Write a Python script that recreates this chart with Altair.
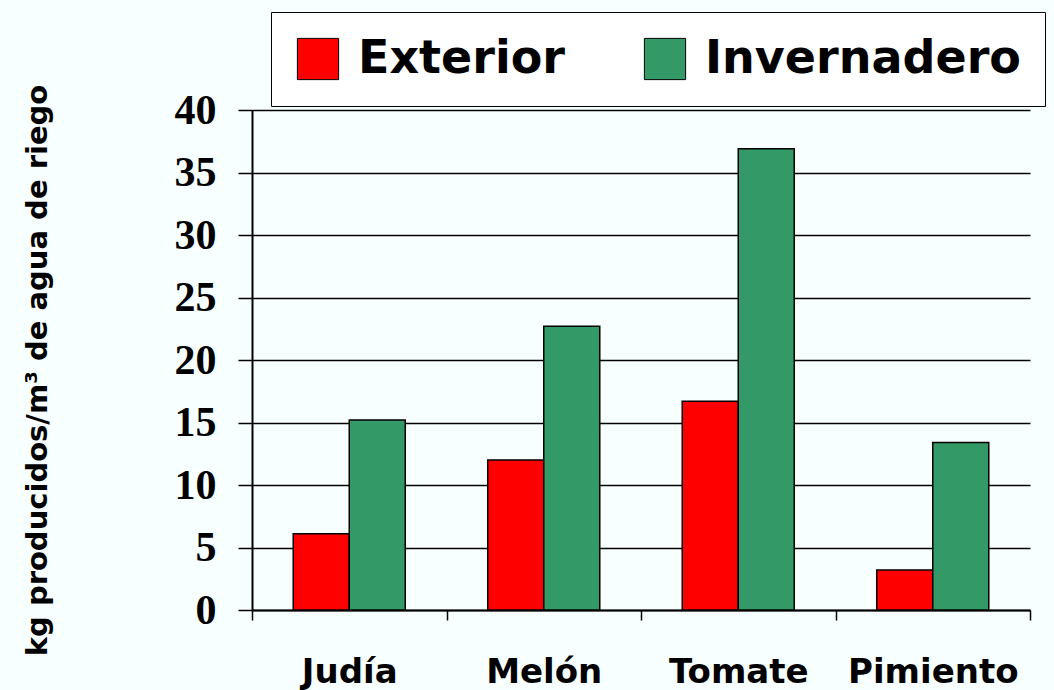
import altair as alt
import pandas as pd

crops = ["Judía", "Melón", "Tomate", "Pimiento"]
series = ["Exterior", "Invernadero"]
exterior = [6.1, 12.0, 16.7, 3.2]
invernadero = [15.2, 22.7, 36.9, 13.4]
colors = ["#ff0000", "#339966"]
y_ticks = [0, 5, 10, 15, 20, 25, 30, 35, 40]

rows = []
for c, e, i in zip(crops, exterior, invernadero):
    rows.append({"crop": c, "serie": "Exterior", "value": e})
    rows.append({"crop": c, "serie": "Invernadero", "value": i})
df = pd.DataFrame(rows)

chart = alt.Chart(df).mark_bar(stroke="black", strokeWidth=1.5).encode(
    x=alt.X("crop:N", sort=crops,
            scale=alt.Scale(paddingInner=0, paddingOuter=0),
            axis=alt.Axis(title=None, labelAngle=0, tickBand="extent",
                          domainColor="black", domainWidth=2,
                          tickColor="black", tickWidth=1.5, tickSize=10,
                          labelFont="DejaVu Sans", labelFontWeight="bold",
                          labelFontSize=34, labelColor="black", labelPadding=35,
                          labelLimit=400)),
    xOffset=alt.XOffset("serie:N", sort=series,
                        scale=alt.Scale(paddingInner=0, paddingOuter=0.736)),
    y=alt.Y("value:Q", scale=alt.Scale(domain=[0, 40], nice=False),
            axis=alt.Axis(values=y_ticks, grid=True, gridColor="black", gridWidth=1.5,
                          domainColor="black", domainWidth=2,
                          tickColor="black", tickWidth=1.5, tickSize=14,
                          labelFont="Liberation Serif", labelFontWeight="bold",
                          labelFontSize=42, labelColor="black", labelPadding=22,
                          title="kg producidos/m³ de agua de riego",
                          titleFont="DejaVu Sans", titleFontWeight="bold",
                          titleFontSize=29, titleColor="black",
                          titleAngle=270, titleX=-215, titleY=260,
                          titleAlign="center", titleBaseline="middle")),
    color=alt.Color("serie:N", sort=series,
                    scale=alt.Scale(domain=series, range=colors),
                    legend=alt.Legend(title=None, orient="none", legendX=19, legendY=-98,
                                      direction="horizontal", strokeColor="black",
                                      fillColor="white", padding=24,
                                      symbolType="square", symbolSize=1700,
                                      symbolStrokeColor="black", symbolStrokeWidth=1,
                                      symbolOpacity=1,
                                      labelFont="DejaVu Sans", labelFontWeight="bold",
                                      labelFontSize=46, labelColor="black",
                                      labelOffset=17, columnPadding=76, labelLimit=500)),
).properties(
    width=778, height=500,
    padding={"left": 252, "top": 110, "right": 24, "bottom": 80},
    autosize=alt.AutoSizeParams(type="none"),
    background="#f8ffff",
).configure_view(stroke=None)

chart.save("out.html", embed_options={"renderer": "svg", "actions": False})
